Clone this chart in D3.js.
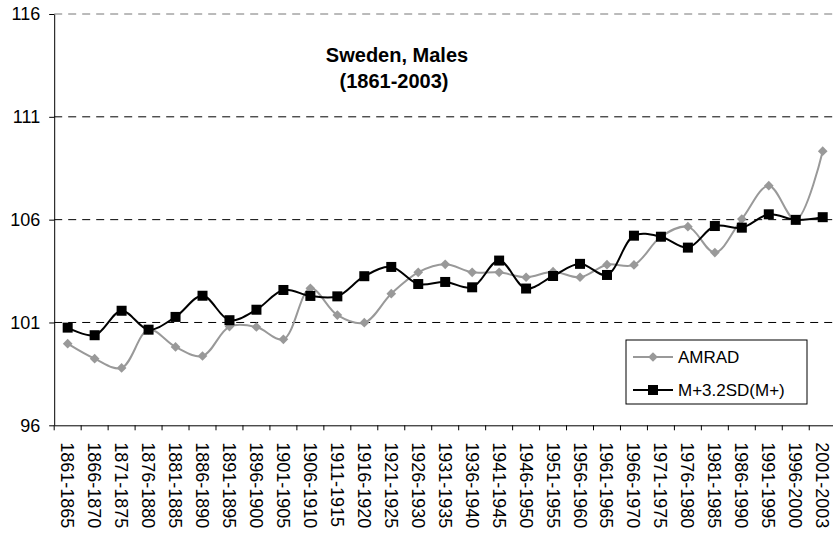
<!DOCTYPE html>
<html>
<head>
<meta charset="utf-8">
<script src="https://cdn.jsdelivr.net/npm/d3@7"></script>
<style>
  body { margin: 0; background: #fff; }
  svg { font-family: Arial, "Liberation Sans", sans-serif; }
</style>
</head>
<body>
<script>
// periods (x categories)
var periods = ["1861-1865","1866-1870","1871-1875","1876-1880","1881-1885","1886-1890",
  "1891-1895","1896-1900","1901-1905","1906-1910","1911-1915","1916-1920","1921-1925",
  "1926-1930","1931-1935","1936-1940","1941-1945","1946-1950","1951-1955","1956-1960",
  "1961-1965","1966-1970","1971-1975","1976-1980","1981-1985","1986-1990","1991-1995",
  "1996-2000","2001-2003"];

// AMRAD series (grey diamonds)
var amrad = [99.97,99.24,98.79,100.65,99.81,99.37,100.80,100.78,100.18,102.66,101.36,100.99,102.40,
  103.44,103.83,103.44,103.44,103.20,103.47,103.20,103.81,103.80,105.17,105.66,104.40,106.03,107.65,
  105.99,109.33];

// M+3.2SD(M+) series (black squares)
var mplus = [100.75,100.38,101.57,100.65,101.27,102.30,101.11,101.62,102.58,102.29,102.27,103.25,103.70,
  102.87,102.97,102.71,104.01,102.65,103.26,103.85,103.31,105.22,105.17,104.64,105.69,105.61,106.26,
  105.99,106.12];

var yTicks = [96, 101, 106, 111, 116];

var W = 833, H = 537;

var svg = d3.select("body").append("svg")
    .attr("width", W)
    .attr("height", H);

var x = d3.scaleBand().domain(periods).range([54.2, 836.2]);
var y = d3.scaleLinear().domain([96, 116]).range([425.3, 14]);

var cx = function(d, i) { return x(periods[i]) + x.bandwidth() / 2; };

// gridlines
svg.append("g")
  .selectAll("line")
  .data(yTicks.slice(1))
  .enter().append("line")
    .attr("x1", 54.2).attr("x2", W)
    .attr("y1", function(d) { return y(d); })
    .attr("y2", function(d) { return y(d); })
    .attr("stroke", function(d) { return d == 116 ? "#777" : "#000"; })
    .attr("stroke-width", 1)
    .attr("stroke-dasharray", "8,6");

// Eixo Y
var yAxis = d3.axisLeft(y).tickValues(yTicks).tickSize(5).tickSizeOuter(0).tickPadding(9);
var gy = svg.append("g")
    .attr("transform", "translate(54.2,0)")
    .call(yAxis);
gy.select(".domain").attr("stroke", "#000");
gy.selectAll("text").attr("font-size", "18px").attr("fill", "#000");

// Eixo X
var xAxis = d3.axisBottom(x).tickSize(0);
var gx = svg.append("g")
    .attr("transform", "translate(0," + y(96) + ")")
    .call(xAxis);
gx.select(".domain").attr("stroke", "#000");
gx.selectAll("text")
    .attr("font-size", "18px")
    .attr("fill", "#000")
    .attr("text-anchor", "start")
    .attr("dy", null)
    .attr("transform", "translate(-6.5,17) rotate(90)")
    .attr("x", 0).attr("y", 0);

// tick marks at band boundaries
svg.append("g")
  .selectAll("line")
  .data(periods)
  .enter().append("line")
    .attr("x1", function(d) { return x(d); })
    .attr("x2", function(d) { return x(d); })
    .attr("y1", y(96)).attr("y2", y(96) + 5)
    .attr("stroke", "#000");

var line = d3.line()
    .x(cx)
    .y(function(d) { return y(d); })
    .curve(d3.curveCatmullRom.alpha(0.5));

// AMRAD
svg.append("path")
    .attr("fill", "none")
    .attr("stroke", "#999")
    .attr("stroke-width", 2)
    .attr("d", line(amrad));

svg.append("g")
  .selectAll("path")
  .data(amrad)
  .enter().append("path")
    .attr("d", d3.symbol().type(d3.symbolDiamond2).size(60))
    .attr("transform", function(d, i) { return "translate(" + cx(d, i) + "," + y(d) + ")"; })
    .attr("fill", "#999");

// M+3.2SD(M+)
svg.append("path")
    .attr("fill", "none")
    .attr("stroke", "#000")
    .attr("stroke-width", 2)
    .attr("d", line(mplus));

svg.append("g")
  .selectAll("rect")
  .data(mplus)
  .enter().append("rect")
    .attr("x", function(d, i) { return cx(d, i) - 5; })
    .attr("y", function(d) { return y(d) - 5; })
    .attr("width", 10).attr("height", 10)
    .attr("fill", "#000");

// titulo
svg.append("text")
    .attr("x", 397).attr("y", 62)
    .attr("text-anchor", "middle")
    .attr("font-size", "20px").attr("font-weight", "bold")
    .text("Sweden, Males");
svg.append("text")
    .attr("x", 394).attr("y", 88)
    .attr("text-anchor", "middle")
    .attr("font-size", "20px").attr("font-weight", "bold")
    .text("(1861-2003)");

// legenda
var leg = svg.append("g").attr("transform", "translate(626,340)");
leg.append("rect")
    .attr("width", 181).attr("height", 64)
    .attr("fill", "#fff").attr("stroke", "#000");
leg.append("line").attr("x1", 7).attr("x2", 47).attr("y1", 17).attr("y2", 17)
    .attr("stroke", "#999").attr("stroke-width", 2);
leg.append("path").attr("d", d3.symbol().type(d3.symbolDiamond2).size(60))
    .attr("transform", "translate(27,17)").attr("fill", "#999");
leg.append("text").attr("x", 52).attr("y", 23).attr("font-size", "17px").text("AMRAD");
leg.append("line").attr("x1", 7).attr("x2", 47).attr("y1", 50).attr("y2", 50)
    .attr("stroke", "#000").attr("stroke-width", 2);
leg.append("rect").attr("x", 22).attr("y", 45).attr("width", 10).attr("height", 10).attr("fill", "#000");
leg.append("text").attr("x", 52).attr("y", 56).attr("font-size", "17px").text("M+3.2SD(M+)");
</script>
</body>
</html>
